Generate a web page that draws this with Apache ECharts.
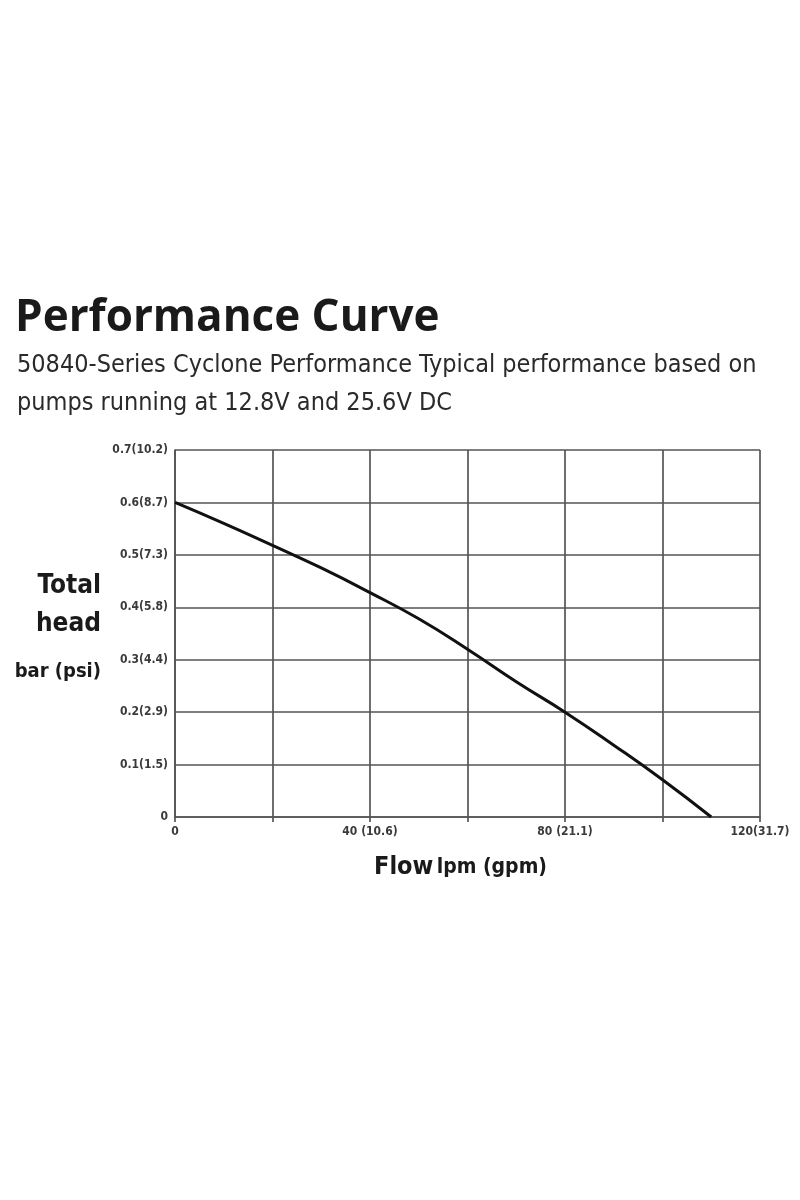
<!DOCTYPE html>
<html>
<head>
<meta charset="utf-8">
<script src="https://cdn.jsdelivr.net/npm/echarts@6/dist/echarts.min.js"></script>
<style>html,body{margin:0;padding:0;background:#fff;}#c{width:800px;height:1200px;}</style>
</head>
<body>
<div id="c"></div>
<script>
const titleText = 'Performance Curve';
const subtitleLines = ['50840-Series Cyclone Performance Typical performance based on', 'pumps running at 12.8V and 25.6V DC'];
const flowLpm = [0, 10, 20, 30, 40, 50, 60, 70, 80, 90, 100, 110];
const headBar = [0.6, 0.56, 0.518, 0.475, 0.428, 0.378, 0.32, 0.258, 0.2, 0.137, 0.071, 0];
const yTickLabels = {'0': '0', '0.1': '0.1(1.5)', '0.2': '0.2(2.9)', '0.3': '0.3(4.4)', '0.4': '0.4(5.8)', '0.5': '0.5(7.3)', '0.6': '0.6(8.7)', '0.7': '0.7(10.2)'};
const xTickLabels = {'0': '0', '40': '40 (10.6)', '80': '80 (21.1)', '120': '120(31.7)'};

const narrow = "'Liberation Sans Narrow', 'DejaVu Sans Condensed', sans-serif";
const chart = echarts.init(document.getElementById('c'), null, {renderer: 'canvas'});
const gridLine = {show: true, lineStyle: {color: '#555', width: 1.7}};
chart.setOption({
  backgroundColor: '#fff',
  animation: false,
  title: [
    {text: titleText, left: 10, top: 291, textStyle: {fontFamily: "'Open Sans', sans-serif", fontWeight: 'bold', fontSize: 44, color: '#1a1a1a'}},
    {text: subtitleLines.join('\n'), left: 12, top: 341, textStyle: {fontFamily: narrow, fontWeight: 'normal', fontSize: 25, lineHeight: 38, color: '#2a2a2a'}}
  ],
  grid: {left: 175, right: 40, top: 450, bottom: 383, containLabel: false},
  xAxis: {
    type: 'value', min: 0, max: 120, interval: 20,
    axisLine: {show: true, lineStyle: {color: '#555', width: 1.7}},
    axisTick: {show: true, length: 5, lineStyle: {color: '#555', width: 1.7}},
    splitLine: gridLine,
    axisLabel: {
      margin: 9, color: '#3a3a3a', fontFamily: narrow, fontWeight: 'bold', fontSize: 12,
      formatter: v => xTickLabels[String(v)] || ''
    },
    name: '{a|Flow} {b|lpm (gpm)}', nameLocation: 'middle', nameGap: 38,
    nameTextStyle: {padding: [0, 14, 0, 0], rich: {
      a: {fontFamily: narrow, fontWeight: 'bold', fontSize: 25, color: '#1a1a1a'},
      b: {fontFamily: narrow, fontWeight: 'bold', fontSize: 21, color: '#1a1a1a'}
    }}
  },
  yAxis: {
    type: 'value', min: 0, max: 0.7, interval: 0.1,
    axisLine: {show: true, lineStyle: {color: '#555', width: 1.7}},
    axisTick: {show: false},
    splitLine: gridLine,
    axisLabel: {
      margin: 7, color: '#3a3a3a', fontFamily: narrow, fontWeight: 'bold', fontSize: 12,
      formatter: v => yTickLabels[String(Math.round(v * 10) / 10)] || ''
    },
    name: '{a|Total}\n{a|head}\n{b|bar (psi)}', nameLocation: 'middle', nameRotate: 0, nameGap: 74,
    nameTextStyle: {align: 'right', rich: {
      a: {fontFamily: narrow, fontWeight: 'bold', fontSize: 26, lineHeight: 38, color: '#1a1a1a', align: 'right'},
      b: {fontFamily: narrow, fontWeight: 'bold', fontSize: 20, lineHeight: 56, color: '#1a1a1a', align: 'right'}
    }}
  },
  series: [{
    type: 'line', smooth: true, showSymbol: false,
    data: flowLpm.map((x, i) => [x, headBar[i]]),
    lineStyle: {color: '#111', width: 3}
  }]
});
</script>
</body>
</html>
